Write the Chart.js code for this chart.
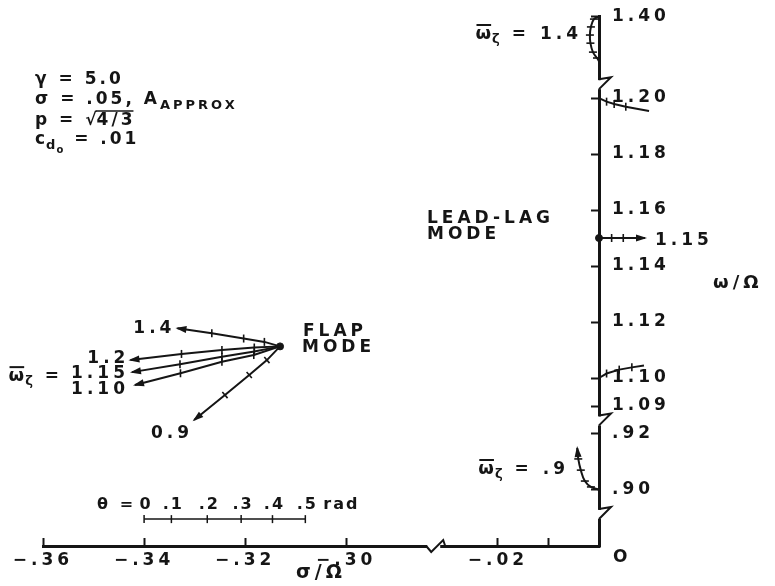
<!DOCTYPE html>
<html>
<head>
<meta charset="utf-8">
<script src="https://cdn.jsdelivr.net/npm/chart.js@4.4.0/dist/chart.umd.min.js"></script>
<style>
  body { margin: 0; background: #fff; }
  #wrap { width: 775px; height: 586px; }
</style>
</head>
<body>
<div id="wrap"><canvas id="locus" width="775" height="586"></canvas></div>
<script>
const FACE = '"DejaVu Sans", sans-serif';
const INK = '#151515';
const SPACING = '4px';

// sigma/Omega axis, two pieces joined by a break
const xTickVals = [-0.36, -0.34, -0.32, -0.30, -0.02, -0.01, 0];
const xTickLabels = ['\u2212.36', '\u2212.34', '\u2212.32', '\u2212.30', '\u2212.02', '', ''];
// omega/Omega axis, three pieces
const yTickVals = [1.40, 1.20, 1.18, 1.16, 1.14, 1.12, 1.10, 1.09, 0.92, 0.90];
const yTickLabels = ['1.40', '1.20', '1.18', '1.16', '1.14', '1.12', '1.10', '1.09', '.92', '.90'];

// flap mode branches, theta = 0 at the common root
const flapLabels = ['1.4', '1.2', '1.15', '1.10', '0.9'];
const flap14Sigma = [-0.3131, -0.3162, -0.3203, -0.3266, -0.3334];
const flap14Omega = [1.1113, 1.1129, 1.1141, 1.1160, 1.1178];
const flap12Sigma = [-0.3131, -0.3182, -0.3246, -0.3326, -0.3427];
const flap12Omega = [1.1113, 1.1109, 1.1100, 1.1086, 1.1064];
const flap115Sigma = [-0.3131, -0.3182, -0.3246, -0.3329, -0.3424];
const flap115Omega = [1.1113, 1.1095, 1.1076, 1.1049, 1.1021];
const flap110Sigma = [-0.3131, -0.3183, -0.3246, -0.3328, -0.3418];
const flap110Omega = [1.1113, 1.1082, 1.1058, 1.1017, 1.0975];
const flap09Sigma = [-0.3131, -0.3157, -0.3192, -0.3240, -0.3301];
const flap09Omega = [1.1113, 1.1064, 1.1011, 1.0939, 1.0850];

// lead-lag branches, starting on the imaginary axis
const lag14Sigma = [0, -0.0010, -0.0016, -0.0018, -0.0017, -0.0012, -0.0004, 0];
const lag14Omega = [1.4000, 1.3992, 1.3964, 1.3935, 1.3906, 1.3874, 1.3853, 1.3842];
const lag12Sigma = [0, 0.0015, 0.0030, 0.0053, 0.0099];
const lag12Omega = [1.2000, 1.1987, 1.1979, 1.1969, 1.1954];
const lag115Sigma = [0, 0.0025, 0.0048, 0.0091];
const lag115Omega = [1.15, 1.15, 1.15, 1.15];
const lag110Sigma = [0, 0.0015, 0.0040, 0.0065, 0.0089];
const lag110Omega = [1.1000, 1.1016, 1.1030, 1.1038, 1.1045];
const lag09Sigma = [0, -0.0016, -0.0028, -0.0036, -0.0041, -0.0043];
const lag09Omega = [0.9000, 0.9009, 0.9030, 0.9069, 0.9109, 0.9148];

// theta key: tick spacing along a branch
const thetaLabels = ['0', '.1', '.2', '.3', '.4', '.5'];
const thetaSigma = [-0.3400, -0.3346, -0.3275, -0.3208, -0.3146, -0.3081];
const thetaLevel = 0.8894;

// where the axes are broken (axis units)
const xBreak = -0.2828;
const yBreaks = [1.2046, 1.0845, 1.0511];
const xMin = -0.36, xMax = -0.25;

// right piece of the sigma axis is slid left across the break
function xPos(s) { return s > -0.15 ? s - 0.25 : s; }
// omega above 1.3 and below 1.0 are slid toward the middle piece
function yPos(w) { return w > 1.3 ? w - 0.171 : (w < 1.0 ? w + 0.1602 : w); }

function series(sig, om) {
  return sig.map((s, i) => ({ x: xPos(s), y: yPos(om[i]) }));
}

function branch(sig, om, rot, extra) {
  return Object.assign({
    data: series(sig, om),
    showLine: true,
    borderColor: INK,
    borderWidth: 2,
    pointStyle: 'line',
    pointRotation: rot,
    pointBorderColor: INK,
    pointBorderWidth: 1.6,
    pointRadius: c => (c.dataIndex === 0 || c.dataIndex === c.dataset.data.length - 1) ? 0 : 4,
    clip: false,
    arrow: true
  }, extra || {});
}

function font(size) { return 'bold ' + size + 'px ' + FACE; }

// text made of pieces: [text, size, baseline shift, spacing]
function runs(ctx, x, y, parts, align) {
  let w = 0;
  parts.forEach(p => {
    ctx.font = font(p[1]); ctx.letterSpacing = p[3] || SPACING;
    w += ctx.measureText(p[0]).width;
  });
  let cx = align === 'right' ? x - w : (align === 'center' ? x - w / 2 : x);
  const spans = [];
  parts.forEach(p => {
    ctx.font = font(p[1]); ctx.letterSpacing = p[3] || SPACING;
    ctx.fillText(p[0], cx, y + (p[2] || 0));
    const nx = cx + ctx.measureText(p[0]).width;
    spans.push([cx, nx]);
    cx = nx;
  });
  ctx.letterSpacing = SPACING;
  return { left: spans[0][0], right: cx, spans };
}

// omega with an overbar and a zeta subscript, then the rest
function omegaLabel(ctx, x, y, rest, align) {
  const r = runs(ctx, x, y, [['\u03c9', 18, 0, '1px'], ['\u03b6', 13, 4, '2px'], [rest, 17]], align);
  const s = r.spans[0];
  ctx.lineWidth = 2;
  ctx.beginPath();
  ctx.moveTo(s[0] + 1, y - 14);
  ctx.lineTo(s[1] - 1, y - 14);
  ctx.stroke();
  return r;
}

function arrowHead(ctx, x0, y0, x1, y1) {
  const ang = Math.atan2(y1 - y0, x1 - x0);
  const len = 9, half = 3.5;
  ctx.beginPath();
  ctx.moveTo(x1 + Math.cos(ang) * 2, y1 + Math.sin(ang) * 2);
  ctx.lineTo(x1 - Math.cos(ang) * len - Math.sin(ang) * half, y1 - Math.sin(ang) * len + Math.cos(ang) * half);
  ctx.lineTo(x1 - Math.cos(ang) * len + Math.sin(ang) * half, y1 - Math.sin(ang) * len - Math.cos(ang) * half);
  ctx.closePath();
  ctx.fill();
}

const decor = {
  id: 'decor',
  beforeDraw(chart) {
    // wide lettering for the tick labels as well
    chart.ctx.letterSpacing = SPACING;
  },
  afterDatasetsDraw(chart) {
    // Chart.js skips points outside the plot area; the lead-lag
    // branches run past the omega axis, so draw those ticks too
    const a = chart.chartArea;
    const whole = { left: 0, top: 0, right: chart.width, bottom: chart.height };
    chart.data.datasets.forEach((ds, i) => {
      chart.getDatasetMeta(i).data.forEach(pt => {
        const m = pt.size(pt.options) / 2;
        if (pt.x > a.right + m || pt.x < a.left - m || pt.y < a.top - m || pt.y > a.bottom + m) {
          pt.draw(chart.ctx, whole);
        }
      });
    });
  },
  afterDraw(chart) {
    const { ctx, chartArea: a, scales: { x, y } } = chart;
    ctx.save();
    ctx.fillStyle = INK;
    ctx.strokeStyle = INK;
    ctx.textBaseline = 'alphabetic';
    ctx.textAlign = 'left';
    ctx.letterSpacing = SPACING;

    // arrowheads at the far end of each branch
    chart.data.datasets.forEach((ds, i) => {
      if (!ds.arrow) return;
      const pts = chart.getDatasetMeta(i).data;
      const p = pts[pts.length - 1], q = pts[pts.length - 2];
      arrowHead(ctx, q.x, q.y, p.x, p.y);
    });

    // axis breaks
    ctx.lineWidth = 2;
    yBreaks.forEach(v => {
      const py = y.getPixelForValue(v);
      const px = a.right;
      ctx.fillStyle = '#fff';
      ctx.fillRect(px - 3, py - 5, 6, 9);
      ctx.fillStyle = INK;
      ctx.beginPath();
      ctx.moveTo(px, py - 6);
      ctx.lineTo(px + 12, py - 8);
      ctx.lineTo(px, py + 4);
      ctx.stroke();
    });
    {
      const px = x.getPixelForValue(xBreak);
      const py = a.bottom;
      ctx.fillStyle = '#fff';
      ctx.fillRect(px - 6, py - 3, 13, 6);
      ctx.fillStyle = INK;
      ctx.beginPath();
      ctx.moveTo(px - 7, py);
      ctx.lineTo(px - 2, py + 6);
      ctx.lineTo(px + 10, py - 6);
      ctx.lineTo(px + 12, py);
      ctx.stroke();
    }

    // origin label sits off to the right of the corner
    ctx.font = font(17);
    ctx.textBaseline = 'middle';
    ctx.fillText('O', x.getPixelForValue(xPos(0)) + 14, a.bottom + 12);
    ctx.textBaseline = 'alphabetic';

    // flap branch labels
    const flapOffsets = [[-2, 5], [-1, 3], [-3, 6], [-6, 9], [-1, 18]];
    let lbl115 = null;
    flapLabels.forEach((t, k) => {
      const pts = chart.getDatasetMeta(k).data;
      const p = pts[pts.length - 1];
      const r = runs(ctx, p.x + flapOffsets[k][0], p.y + flapOffsets[k][1], [[t, 17]], 'right');
      if (k === 2) lbl115 = r;
    });
    omegaLabel(ctx, lbl115.left - 8, chart.getDatasetMeta(2).data[4].y + 9, ' =', 'right');

    // lead-lag labels
    const p115 = chart.getDatasetMeta(7).data[3];
    runs(ctx, p115.x + 10, p115.y + 7, [['1.15', 17]]);
    omegaLabel(ctx, 582, 39, ' = 1.4', 'right');
    omegaLabel(ctx, 569, 474, ' = .9', 'right');

    runs(ctx, 303, 336, [['FLAP', 17]]);
    runs(ctx, 302, 352, [['MODE', 17]]);
    runs(ctx, 427, 223, [['LEAD-LAG', 17]]);
    runs(ctx, 427, 239, [['MODE', 17]]);
    runs(ctx, 713, 288, [['\u03c9/\u03a9', 18]]);

    // parameter block
    runs(ctx, 35, 84, [['\u03b3 = 5.0', 17, 0, '3px']]);
    runs(ctx, 35, 104, [['\u03c3 = .05, A', 17, 0, '3px'], ['APPROX', 13, 5, '3px']]);
    const pr = runs(ctx, 35, 125, [['p = \u221a', 17, 0, '3px']]);
    const pr2 = runs(ctx, pr.right - 3, 125, [['4/3', 17, 0, '3px']]);
    ctx.lineWidth = 1.5;
    ctx.beginPath();
    ctx.moveTo(pr.right - 4, 111);
    ctx.lineTo(pr2.right - 2, 111);
    ctx.stroke();
    runs(ctx, 35, 144, [['c', 17, 0, '1px'], ['d', 13, 5, '1px'], ['o', 10, 9, '2px'], [' = .01', 17, 0, '3px']]);

    // theta key labels
    const tk = chart.getDatasetMeta(10).data;
    tk.forEach((p, i) => runs(ctx, p.x + 2, p.y - 10, [[thetaLabels[i], 16, 0, '2px']], 'center'));
    runs(ctx, tk[0].x - 8, tk[0].y - 10, [['\u03b8 =', 16, 0, '3px']], 'right');
    runs(ctx, tk[5].x + 18, tk[5].y - 10, [['rad', 16, 0, '2px']]);

    ctx.restore();
  }
};

const datasets = [
  branch(flap14Sigma, flap14Omega, 90),
  branch(flap12Sigma, flap12Omega, 90),
  branch(flap115Sigma, flap115Omega, 90),
  branch(flap110Sigma, flap110Omega, 90),
  branch(flap09Sigma, flap09Omega, 49),
  branch(lag14Sigma, lag14Omega, 0, { tension: 0.4, arrow: false }),
  branch(lag12Sigma, lag12Omega, 90, { arrow: false }),
  branch(lag115Sigma, lag115Omega, 90),
  branch(lag110Sigma, lag110Omega, 90, { arrow: false }),
  branch(lag09Sigma, lag09Omega, 0, { tension: 0.4 }),
  {
    data: thetaSigma.map(s => ({ x: xPos(s), y: yPos(thetaLevel) })),
    showLine: true, borderColor: INK, borderWidth: 1.5,
    pointStyle: 'line', pointRotation: 90, pointRadius: 4,
    pointBorderColor: INK, pointBorderWidth: 1.5, clip: false
  },
  {
    // roots at theta = 0
    data: series([flap14Sigma[0], lag115Sigma[0]], [flap14Omega[0], lag115Omega[0]]),
    showLine: false, pointStyle: 'circle', pointRadius: 3.5,
    backgroundColor: INK, borderColor: INK, clip: false
  }
];

const tickFont = { family: FACE, size: 17, weight: 'bold' };

new Chart(document.getElementById('locus'), {
  type: 'scatter',
  data: { datasets },
  options: {
    responsive: false,
    animation: false,
    layout: { padding: { left: 43, top: 16, right: 0, bottom: 0 } },
    plugins: { legend: { display: false }, tooltip: { enabled: false } },
    scales: {
      x: {
        type: 'linear', position: 'bottom', bounds: 'data',
        // range set here rather than min/max so points past the corner are still drawn
        afterDataLimits: s => { s.min = xMin; s.max = xMax; },
        afterBuildTicks: s => {
          s.min = xMin; s.max = xMax;
          s.ticks = xTickVals.map(v => ({ value: xPos(v) }));
        },
        afterFit: s => { s.height = 40; s.paddingLeft = 0; s.paddingRight = 0; },
        grid: { drawOnChartArea: false, tickLength: -8, tickWidth: 2, color: INK },
        border: { color: INK, width: 3 },
        ticks: {
          callback: (v, i) => xTickLabels[i], autoSkip: false, maxRotation: 0,
          padding: 12, color: INK, font: tickFont
        },
        title: {
          display: true, text: '\u03c3/\u03a9', color: INK,
          font: { family: FACE, size: 19, weight: 'bold' }, padding: { top: 0, bottom: 2 }
        }
      },
      y: {
        type: 'linear', min: 1.04, max: 1.2293, position: 'right',
        afterBuildTicks: s => { s.ticks = yTickVals.map(v => ({ value: yPos(v) })); },
        afterFit: s => { s.width = 176; s.paddingTop = 0; s.paddingBottom = 0; },
        grid: { drawOnChartArea: false, tickLength: -8, tickWidth: 2, color: INK },
        border: { color: INK, width: 3 },
        ticks: {
          callback: (v, i) => yTickLabels[i], autoSkip: false,
          padding: 21, color: INK, font: tickFont
        }
      }
    }
  },
  plugins: [decor]
});
</script>
</body>
</html>
